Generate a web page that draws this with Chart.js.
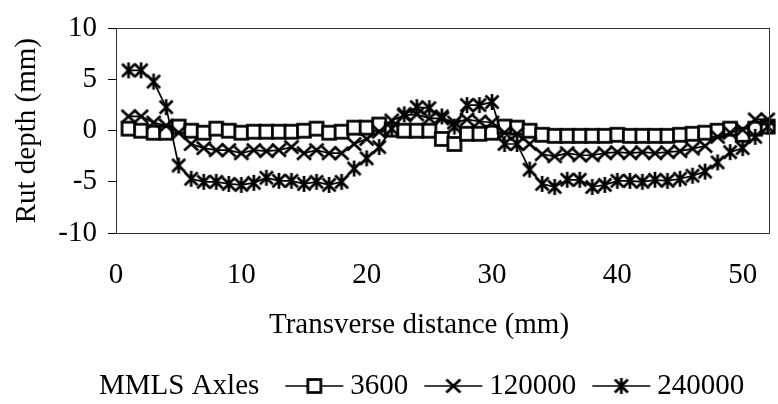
<!DOCTYPE html>
<html>
<head>
<meta charset="utf-8">
<script src="https://cdn.jsdelivr.net/npm/chart.js@4.4.0/dist/chart.umd.min.js"></script>
<style>
  html, body { margin: 0; padding: 0; background: #ffffff; }
</style>
</head>
<body>
<canvas id="rutChart" width="778" height="404"></canvas>
<script>
// Distancia transversal (mm)
const distancia = [1, 2, 3, 4, 5, 6, 7, 8, 9, 10, 11, 12, 13, 14, 15, 16, 17, 18, 19, 20,
  21, 22, 23, 24, 25, 26, 27, 28, 29, 30, 31, 32, 33, 34, 35, 36, 37, 38, 39, 40,
  41, 42, 43, 44, 45, 46, 47, 48, 49, 50, 51, 52];

// Profundidad de ahuellamiento (mm) por numero de ejes
const ejes3600 = [0.2, 0.0, -0.2, -0.2, 0.4, 0.0, -0.2, 0.2, 0.0, -0.2, -0.1, -0.1, -0.1, -0.1, 0.0, 0.2, -0.2, -0.1, 0.3, 0.3,
  0.6, 0.1, 0.0, 0.0, 0.0, -0.8, -1.3, -0.3, -0.3, -0.2, 0.4, 0.3, 0.0, -0.4, -0.5, -0.5, -0.5, -0.5, -0.5, -0.4,
  -0.5, -0.5, -0.5, -0.5, -0.4, -0.3, -0.2, 0.0, 0.2, -0.4, 0.2, 0.4];
const ejes120000 = [1.4, 1.4, 0.8, 0.5, -0.2, -1.3, -1.7, -1.9, -1.9, -2.2, -1.9, -2.0, -1.9, -1.6, -2.2, -1.9, -2.2, -2.2, -1.3, -0.8,
  -0.1, 1.0, 1.5, 1.6, 1.2, 1.2, 0.8, 1.1, 0.9, 0.8, -0.2, -0.3, -1.3, -2.3, -2.5, -2.2, -2.4, -2.4, -2.2, -2.1,
  -2.2, -2.1, -2.2, -2.1, -2.0, -1.75, -1.5, -0.6, -0.2, 0.1, 1.1, 1.1];
const ejes240000 = [5.9, 5.9, 4.8, 2.3, -3.4, -4.7, -5.0, -5.0, -5.2, -5.3, -5.1, -4.6, -4.9, -4.9, -5.2, -5.0, -5.3, -5.0, -3.7, -2.7,
  -1.6, 0.2, 1.6, 2.3, 2.2, 1.4, 0.4, 2.5, 2.5, 2.8, -1.3, -1.3, -3.8, -5.2, -5.5, -4.8, -4.8, -5.5, -5.3, -4.9,
  -4.9, -5.0, -4.8, -4.9, -4.7, -4.4, -4.0, -3.1, -2.1, -1.7, -0.6, 0.4];

const nombresSeries = ["3600", "120000", "240000"];
const tituloLeyenda = "MMLS Axles";
const tituloX = "Transverse distance (mm)";
const tituloY = "Rut depth (mm)";
const ticksX = [0, 10, 20, 30, 40, 50];
const ticksY = [-10, -5, 0, 5, 10];

const fuente = '"Liberation Serif", "Times New Roman", serif';
const tamFuente = 29;

// Marcadores dibujados en un canvas pequeño
function crearMarcador(tipo) {
  const c = document.createElement("canvas");
  c.width = 22;
  c.height = 22;
  const g = c.getContext("2d");
  const m = 11;
  g.strokeStyle = "#000000";
  g.lineWidth = 2.7;
  if (tipo === "cuadro") {
    g.fillStyle = "#ffffff";
    g.fillRect(m - 6.5, m - 6.5, 13, 13);
    g.strokeRect(m - 6.5, m - 6.5, 13, 13);
  } else if (tipo === "equis") {
    g.beginPath();
    g.moveTo(m - 7, m - 6.5); g.lineTo(m + 7, m + 6.5);
    g.moveTo(m - 7, m + 6.5); g.lineTo(m + 7, m - 6.5);
    g.stroke();
  } else {
    g.beginPath();
    g.moveTo(m, m - 8); g.lineTo(m, m + 8);
    g.moveTo(m - 6.5, m - 6.5); g.lineTo(m + 6.5, m + 6.5);
    g.moveTo(m - 6.5, m + 6.5); g.lineTo(m + 6.5, m - 6.5);
    g.stroke();
  }
  return c;
}

const marcadores = [crearMarcador("cuadro"), crearMarcador("equis"), crearMarcador("asterisco")];
const valores = [ejes3600, ejes120000, ejes240000];

const datasets = valores.map((serie, i) => ({
  label: nombresSeries[i],
  data: distancia.map((d, j) => ({ x: d, y: serie[j] })),
  borderColor: "#000000",
  backgroundColor: "#000000",
  borderWidth: 1.7,
  pointStyle: marcadores[i],
  pointRadius: 7,
  tension: 0,
  clip: false,
  order: 3 - i,
}));

// Marco alrededor del area de la grafica
const marcoPlugin = {
  id: "marco",
  afterDraw(chart) {
    const { ctx, chartArea } = chart;
    ctx.save();
    ctx.strokeStyle = "#333333";
    ctx.lineWidth = 1;
    ctx.strokeRect(Math.round(chartArea.left) + 0.5, Math.round(chartArea.top) + 0.5,
      Math.round(chartArea.right - chartArea.left), Math.round(chartArea.bottom - chartArea.top));
    ctx.restore();
  },
};

// Titulo del eje X y leyenda horizontal con titulo a la izquierda
const leyendaPlugin = {
  id: "leyendaEjes",
  afterDraw(chart) {
    const ctx = chart.ctx;
    ctx.save();
    ctx.font = tamFuente + "px " + fuente;
    ctx.fillStyle = "#000000";
    ctx.textBaseline = "middle";

    ctx.textAlign = "center";
    ctx.fillText(tituloX, 419, 325);

    const y = 386;
    ctx.textAlign = "left";
    let x = 99;
    ctx.fillText(tituloLeyenda, x, y);
    x += ctx.measureText(tituloLeyenda).width + 26;
    nombresSeries.forEach((nombre, i) => {
      ctx.strokeStyle = "#000000";
      ctx.lineWidth = 1.7;
      ctx.beginPath();
      ctx.moveTo(x, y);
      ctx.lineTo(x + 58, y);
      ctx.stroke();
      const mk = marcadores[i];
      ctx.drawImage(mk, x + 29 - mk.width / 2, y - mk.height / 2);
      x += 58 + 7;
      ctx.fillText(nombre, x, y);
      x += ctx.measureText(nombre).width + 16;
    });
    ctx.restore();
  },
};

new Chart(document.getElementById("rutChart").getContext("2d"), {
  type: "line",
  data: { datasets: datasets },
  options: {
    responsive: false,
    animation: false,
    devicePixelRatio: 1,
    layout: { padding: { left: 0, right: 9, top: 20, bottom: 62 } },
    plugins: {
      legend: { display: false },
      tooltip: { enabled: false },
    },
    scales: {
      x: {
        type: "linear",
        min: 0,
        max: 52.1,
        afterBuildTicks: (scale) => {
          scale.ticks = ticksX.map((v) => ({ value: v }));
        },
        afterFit: (scale) => { scale.height = 109; },
        grid: { display: false },
        border: { display: false },
        ticks: {
          color: "#000000",
          padding: 17,
          maxRotation: 0,
          font: { family: fuente, size: tamFuente },
        },
        title: { display: false },
      },
      y: {
        min: -10,
        max: 10,
        afterBuildTicks: (scale) => {
          scale.ticks = ticksY.map((v) => ({ value: v }));
        },
        afterFit: (scale) => { scale.width = 116; },
        grid: {
          drawOnChartArea: false,
          drawTicks: true,
          tickLength: 8,
          color: "#000000",
        },
        border: { display: false },
        ticks: {
          color: "#000000",
          padding: 11,
          font: { family: fuente, size: tamFuente },
        },
        title: {
          display: true,
          text: tituloY,
          color: "#000000",
          padding: { top: 10, bottom: 0 },
          font: { family: fuente, size: tamFuente },
        },
      },
    },
  },
  plugins: [marcoPlugin, leyendaPlugin],
});
</script>
</body>
</html>
